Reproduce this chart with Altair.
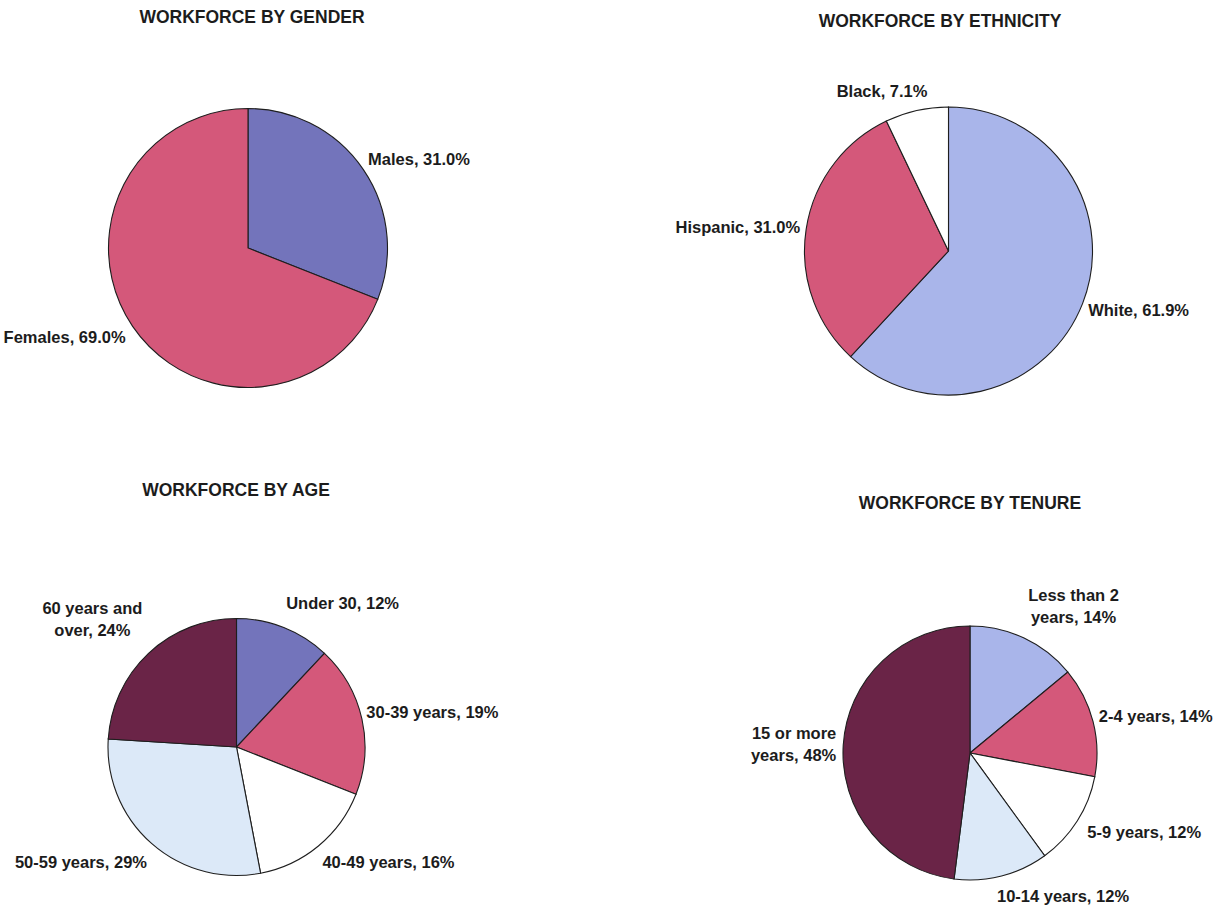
import altair as alt
import pandas as pd

FONT = "Liberation Sans"
INK = "#1c1c1c"
OUTLINE = "#1e1e1e"

# ---- data -------------------------------------------------------------
gender_cats = ["Males", "Females"]
gender_vals = [31.0, 69.0]

eth_cats = ["White", "Hispanic", "Black"]
eth_vals = [61.9, 31.0, 7.1]

age_cats = ["Under 30", "30-39 years", "40-49 years", "50-59 years", "60 years and over"]
age_vals = [12, 19, 16, 29, 24]

tenure_cats = ["Less than 2 years", "2-4 years", "5-9 years", "10-14 years", "15 or more years"]
tenure_vals = [14, 14, 12, 12, 48]

# ---- slice fills --------------------------------------------------------
BLUE = "#7374bb"
RED = "#d4587a"
PERI = "#a9b5ea"
WHITE = "#ffffff"
ICE = "#dce9f8"
PLUM = "#6a2447"

gender_colors = [BLUE, RED]
eth_colors = [PERI, RED, WHITE]
age_colors = [BLUE, RED, WHITE, ICE, PLUM]
tenure_colors = [PERI, RED, WHITE, ICE, PLUM]

# where a long category name wraps onto a second line
WRAP = {
    "60 years and over": "60 years and",
    "Less than 2 years": "Less than 2",
    "15 or more years": "15 or more",
}

LINE_H = 22
THETA = alt.Scale(domain=[0, 100], range=[0, 6.283185307179586])


def make_label(cat, val, decimals):
    text = f"{cat}, {val:.{decimals}f}%"
    head = WRAP.get(cat)
    if head:
        text = head + "\n" + text[len(head) + 1:]
    return text


def pie(cats, vals, colors, decimals, cx, cy, r, title, tx, ty, placements):
    df = pd.DataFrame({
        "cat": cats,
        "value": vals,
        "color": colors,
        "idx": list(range(len(cats))),
        "label": [make_label(c, v, decimals) for c, v in zip(cats, vals)],
    })
    base = (
        alt.Chart(df)
        .transform_window(cum="sum(value)", sort=[alt.SortField("idx")], frame=[None, 0])
        .transform_calculate(start="datum.cum - datum.value",
                             mid="datum.cum - datum.value / 2")
    )
    layers = [
        base.mark_arc(outerRadius=r, stroke=OUTLINE, strokeWidth=1.1).encode(
            theta=alt.Theta("start:Q", scale=THETA, stack=None),
            theta2="cum:Q",
            color=alt.Color("color:N", scale=None),
            x=alt.value(cx),
            y=alt.value(cy),
        )
    ]
    for cat, (rad, align, dx, dy) in placements.items():
        # two-line labels: lift the first line so the block is centred
        if cat in WRAP:
            dy -= LINE_H / 2
        layers.append(
            base.transform_filter(alt.datum.cat == cat)
            .mark_text(radius=rad, align=align, baseline="middle", dx=dx, dy=dy,
                       font=FONT, fontSize=16.5, fontWeight="bold", color=INK,
                       lineBreak="\n", lineHeight=LINE_H)
            .encode(
                theta=alt.Theta("mid:Q", scale=THETA, stack=None),
                text="label:N",
                x=alt.value(cx),
                y=alt.value(cy),
            )
        )
    layers.append(
        alt.Chart(pd.DataFrame({"t": [title]}))
        .mark_text(font=FONT, fontSize=17.5, fontWeight="bold", color=INK,
                   align="center", baseline="middle")
        .encode(text="t:N", x=alt.value(tx), y=alt.value(ty))
    )
    return layers


layers = []
layers += pie(gender_cats, gender_vals, gender_colors, 1, 248, 248, 139.5,
              "WORKFORCE BY GENDER", 252, 18,
              {"Males": (150, "left", -4, -4),
               "Females": (148, "right", 0, 7)})
layers += pie(eth_cats, eth_vals, eth_colors, 1, 948.5, 251, 144,
              "WORKFORCE BY ETHNICITY", 940, 22,
              {"White": (150, "left", 0, 5),
               "Hispanic": (150, "right", 0, 0),
               "Black": (163, "right", 15, 0)})
layers += pie(age_cats, age_vals, age_colors, 0, 236.5, 747, 128.5,
              "WORKFORCE BY AGE", 236, 491,
              {"Under 30": (154, "left", -7, 0),
               "30-39 years": (133, "left", 0, -5),
               "40-49 years": (150.5, "left", -10, 0),
               "50-59 years": (155, "right", 13, 0),
               "60 years and over": (174, "center", -25, 0)})
layers += pie(tenure_cats, tenure_vals, tenure_colors, 0, 970, 753, 127,
              "WORKFORCE BY TENURE", 970, 504,
              {"Less than 2 years": (161, "center", 35, 0),
               "2-4 years": (133, "left", 0, -3),
               "5-9 years": (139, "left", 0, 6),
               "10-14 years": (148.6, "left", -10, 0),
               "15 or more years": (134, "right", 0, 0)})

chart = (
    alt.layer(*layers)
    .resolve_scale(theta="independent")
    .properties(width=1228, height=905, padding=0, autosize="none", background="white")
    .configure_view(stroke=None)
)

chart.save("out.html", embed_options={"renderer": "svg", "actions": False})
